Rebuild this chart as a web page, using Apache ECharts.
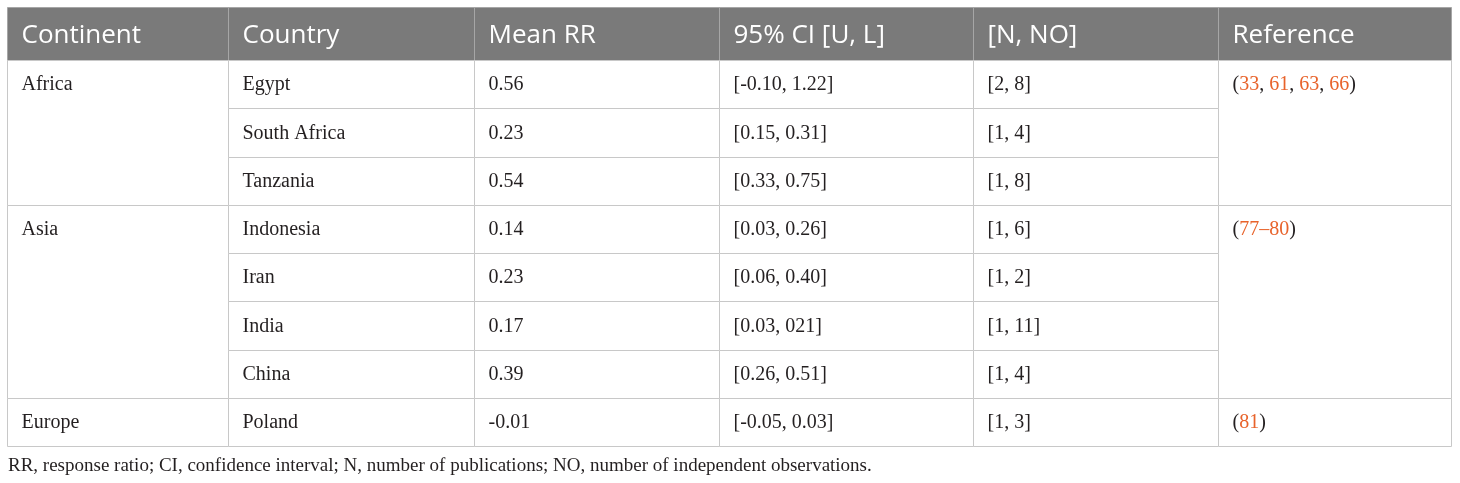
<!DOCTYPE html>
<html><head><meta charset="utf-8">
<script src="https://cdn.jsdelivr.net/npm/echarts@6/dist/echarts.min.js"></script>
<style>html,body{margin:0;padding:0;background:#fff}#c{width:1460px;height:483px}</style>
</head><body><div id="c"></div>
<script>
// ---- data ----
var headers = ['Continent', 'Country', 'Mean RR', '95% CI [U, L]', '[N, NO]', 'Reference'];
var continents = ['Africa', 'Asia', 'Europe'];
var continentRowCounts = [3, 4, 1];
var countries = ['Egypt', 'South Africa', 'Tanzania', 'Indonesia', 'Iran', 'India', 'China', 'Poland'];
var meanRR = [0.56, 0.23, 0.54, 0.14, 0.23, 0.17, 0.39, -0.01];
var ciLower = ['-0.10', '0.15', '0.33', '0.03', '0.06', '0.03', '0.26', '-0.05'];
var ciUpper = ['1.22', '0.31', '0.75', '0.26', '0.40', '021', '0.51', '0.03'];
var nPublications = [2, 1, 1, 1, 1, 1, 1, 1];
var nObservations = [8, 4, 8, 6, 2, 11, 4, 3];
var referenceParts = [
  [['(', 0], ['33', 1], [', ', 0], ['61', 1], [', ', 0], ['63', 1], [', ', 0], ['66', 1], [')', 0]],
  [['(', 0], ['77', 1], ['\u2013', 1], ['80', 1], [')', 0]],
  [['(', 0], ['81', 1], [')', 0]]
];
var footnote = 'RR, response ratio; CI, confidence interval; N, number of publications; NO, number of independent observations.';

// ---- layout ----
var colEdges = [0, 221, 467, 712, 966, 1211, 1444];
var headerH = 53, rowH = 48.25;
function rowTop(r) { return r < 0 ? 0 : headerH + r * rowH; }
var totalH = headerH + countries.length * rowH;

// build cells: [col, rowStart, rowEnd(exclusive), kind]
var cells = [], cellText = [];
headers.forEach(function (h, c) { cells.push([c, -1, 0, 0]); cellText.push(h); });
var r = 0;
continents.forEach(function (ct, k) {
  var n = continentRowCounts[k];
  cells.push([0, r, r + n, 1]); cellText.push(ct);
  cells.push([5, r, r + n, 2]); cellText.push(referenceParts[k]);
  r += n;
});
countries.forEach(function (cn, i) {
  cells.push([1, i, i + 1, 1]); cellText.push(cn);
  cells.push([2, i, i + 1, 1]); cellText.push(meanRR[i].toFixed(2));
  cells.push([3, i, i + 1, 1]); cellText.push('[' + ciLower[i] + ', ' + ciUpper[i] + ']');
  cells.push([4, i, i + 1, 1]); cellText.push('[' + nPublications[i] + ', ' + nObservations[i] + ']');
});

var serif = '"Liberation Serif", "DejaVu Serif", serif';
var sans = '"Open Sans", "Noto Sans", sans-serif';

function renderItem(params, api) {
  var c = api.value(0), rs = api.value(1), re = api.value(2), kind = api.value(3);
  var p0 = api.coord([colEdges[c], rowTop(rs < 0 ? -1 : rs)]);
  var p1 = api.coord([colEdges[c + 1], rs < 0 ? headerH : rowTop(re)]);
  var x0 = Math.round(p0[0]) + 0.5, y0 = Math.round(p0[1]) + 0.5;
  var x1 = Math.round(p1[0]) + 0.5, y1 = Math.round(p1[1]) + 0.5;
  var firstH = rs < 0 ? headerH : rowH;
  var tyPix = api.coord([0, (rs < 0 ? 0 : rowTop(rs)) + firstH / 2])[1];
  var t = cellText[params.dataIndex];
  var children = [{
    type: 'rect',
    shape: { x: x0, y: y0, width: x1 - x0, height: y1 - y0 },
    style: { fill: kind === 0 ? '#7a7a7a' : '#ffffff', stroke: kind === 0 ? '#a6a6a6' : '#c8c8c8', lineWidth: 1 }
  }];
  if (kind === 0) {
    children.push({ type: 'text', style: { text: t, x: x0 + 14, y: tyPix + 2, verticalAlign: 'middle', align: 'left', font: '26px ' + sans, fill: '#ffffff' } });
  } else if (kind === 1) {
    children.push({ type: 'text', style: { text: t, x: x0 + 14, y: tyPix + 1, verticalAlign: 'middle', align: 'left', font: '20px ' + serif, fill: '#231f20' } });
  } else {
    var s = t.map(function (p) { return '{' + (p[1] ? 'o' : 'k') + '|' + p[0] + '}'; }).join('');
    children.push({ type: 'text', style: {
      text: s, x: x0 + 14, y: tyPix + 1, verticalAlign: 'middle', align: 'left',
      rich: {
        k: { fontFamily: serif, fontSize: 20, fill: '#231f20', color: '#231f20' },
        o: { fontFamily: serif, fontSize: 20, fill: '#e8632b', color: '#e8632b' }
      }
    } });
  }
  return { type: 'group', children: children };
}

var chart = echarts.init(document.getElementById('c'));
chart.setOption({
  animation: false,
  grid: { left: 7, top: 7, width: 1444, height: totalH },
  xAxis: { type: 'value', min: 0, max: colEdges[colEdges.length - 1], show: false },
  yAxis: { type: 'value', min: 0, max: totalH, inverse: true, show: false },
  title: { text: footnote, left: 8, top: 457, padding: 0, textStyle: { fontFamily: serif, fontSize: 19, fontWeight: 'normal', color: '#231f20' } },
  series: [{
    type: 'custom',
    renderItem: renderItem,
    encode: { x: [], y: [] },
    data: cells
  }]
});
</script></body></html>
